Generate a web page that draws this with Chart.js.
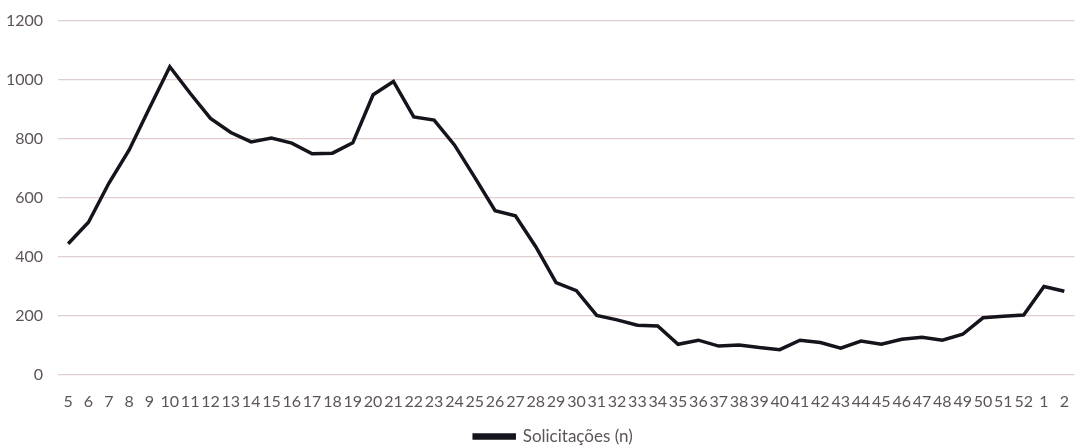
<!DOCTYPE html>
<html>
<head>
<meta charset="utf-8">
<script src="https://cdn.jsdelivr.net/npm/chart.js@4/dist/chart.umd.min.js"></script>
<style>
  html, body { margin: 0; padding: 0; background: #fff; }
  #wrap { width: 1078px; height: 446px; }
</style>
</head>
<body>
<div id="wrap"><canvas id="myChart"></canvas></div>
<script>
// weeks (epidemiological week numbers)
const weeks = ["5", "6", "7", "8", "9", "10", "11", "12", "13", "14", "15", "16", "17", "18", "19",
  "20", "21", "22", "23", "24", "25", "26", "27", "28", "29", "30", "31", "32", "33", "34", "35",
  "36", "37", "38", "39", "40", "41", "42", "43", "44", "45", "46", "47", "48", "49", "50", "51",
  "52", "1", "2"];

// Solicitações (n)
const requests = [445, 518, 650, 763, 905, 1045, 955, 870, 822, 790, 803, 786, 750, 752, 787,
  950, 995, 875, 864, 780, 670, 557, 540, 435, 313, 286, 202, 187, 169, 166, 104,
  118, 98, 102, 93, 86, 118, 110, 91, 115, 104, 121, 128, 118, 138, 194, 199,
  203, 300, 284];

const yTicks = [0, 200, 400, 600, 800, 1000, 1200];

const lineColor = "#14141c";
const textColor = "#5c5458";
const gridColor = "#e2cdd0";

// small layout tweaks after chart.js has placed everything
const layoutNudge = {
  id: "layoutNudge",
  afterLayout(chart) {
    // legend a bit lower and to the right, like the excel original
    const lg = chart.legend;
    lg.top += 9;
    lg.bottom += 9;
    lg.left += 16;
    lg.right += 16;
    if (lg.legendHitBoxes) {
      lg.legendHitBoxes.forEach((b) => {
        b.top += 9;
        b.left += 16;
      });
    }
    // plot area top at 21px
    const y = chart.scales.y;
    y.top = 21;
    y.height = y.bottom - y.top;
    y.configure();
    chart.chartArea.top = 21;
    chart.chartArea.height = chart.chartArea.bottom - 21;
  },
};

const data = {
  labels: weeks,
  datasets: [
    {
      label: "Solicitações (n)",
      data: requests,
      borderColor: lineColor,
      backgroundColor: lineColor,
      borderWidth: 3.5,
      pointRadius: 0,
      tension: 0,
    },
  ],
};

const config = {
  type: "line",
  data: data,
  plugins: [layoutNudge],
  options: {
    responsive: true,
    maintainAspectRatio: false,
    animation: false,
    layout: {
      padding: { top: 0, right: 3, bottom: 0, left: 0 },
    },
    scales: {
      x: {
        offset: true,
        grid: { display: false },
        border: { display: false },
        ticks: {
          autoSkip: false,
          maxRotation: 0,
          padding: 9,
          color: textColor,
          font: { family: "Lato", size: 16 },
        },
        afterFit: (axis) => {
          axis.height = 42;
        },
      },
      y: {
        min: 0,
        max: 1200,
        afterBuildTicks: (axis) => {
          axis.ticks = yTicks.map((v) => ({ value: v }));
        },
        grid: {
          color: gridColor,
          lineWidth: 1.2,
          drawTicks: false,
        },
        border: { display: false },
        ticks: {
          padding: 15,
          color: textColor,
          font: { family: "Lato", size: 16 },
          callback: (value) => String(value), // no thousands separator
        },
        afterFit: (axis) => {
          axis.width = 58; // keep plot starting where the reference does
        },
      },
    },
    plugins: {
      legend: {
        display: true,
        position: "bottom",
        labels: {
          boxWidth: 40,
          boxHeight: 3,
          padding: 2,
          color: textColor,
          font: { family: "Lato", size: 17 },
        },
      },
      tooltip: { enabled: false },
    },
    events: [],
  },
};

const myChart = new Chart(document.getElementById("myChart"), config);
</script>
</body>
</html>
